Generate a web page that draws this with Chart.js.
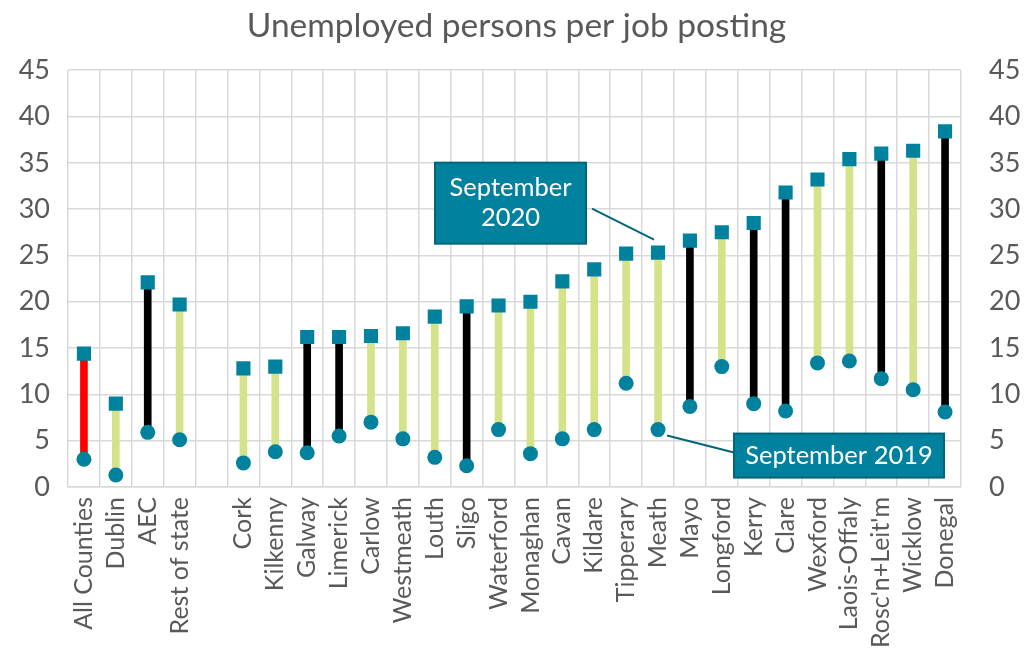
<!DOCTYPE html>
<html>
<head>
<meta charset="utf-8">
<title>Unemployed persons per job posting</title>
<script src="https://cdn.jsdelivr.net/npm/chart.js@4.4.1/dist/chart.umd.min.js"></script>
<style>
    body { margin: 0; background: #ffffff; }
    #box { width: 1033px; height: 659px; }
</style>
</head>
<body>
<div id="box"><canvas id="myChart" width="1033" height="659"></canvas></div>
<script>
// categories (empty one is the gap after "Rest of state")
var categorias = ['All Counties', 'Dublin', 'AEC', 'Rest of state', '',
    'Cork', 'Kilkenny', 'Galway', 'Limerick', 'Carlow', 'Westmeath', 'Louth', 'Sligo',
    'Waterford', 'Monaghan', 'Cavan', 'Kildare', 'Tipperary', 'Meath', 'Mayo', 'Longford',
    'Kerry', 'Clare', 'Wexford', 'Laois-Offaly', "Rosc'n+Leit'm", 'Wicklow', 'Donegal'];

var setembro2020 = [14.4, 9.0, 22.1, 19.7, null,
    12.8, 13.0, 16.2, 16.2, 16.3, 16.6, 18.4, 19.5,
    19.6, 20.0, 22.2, 23.5, 25.2, 25.3, 26.6, 27.5,
    28.5, 31.8, 33.2, 35.4, 36.0, 36.3, 38.4];

var setembro2019 = [3.0, 1.3, 5.9, 5.1, null,
    2.6, 3.8, 3.7, 5.5, 7.0, 5.2, 3.2, 2.3,
    6.2, 3.6, 5.2, 6.2, 11.2, 6.2, 8.7, 13.0,
    9.0, 8.2, 13.4, 13.6, 11.7, 10.5, 8.1];

// 'all' = national total, 'aec' = Atlantic Economic Corridor, 'rest' = rest of state
var grupos = ['all', 'rest', 'aec', 'rest', '',
    'rest', 'rest', 'aec', 'aec', 'rest', 'rest', 'rest', 'aec',
    'rest', 'rest', 'rest', 'rest', 'rest', 'rest', 'aec', 'rest',
    'aec', 'aec', 'rest', 'rest', 'aec', 'rest', 'aec'];

var ticksY = [0, 5, 10, 15, 20, 25, 30, 35, 40, 45];

var corGrupo = { all: '#ff0000', aec: '#000000', rest: '#d4e28a', '': 'rgba(0,0,0,0)' };
var corMarcador = '#00829e';
var corBorda = '#00657a';
var cinza = '#595959';

var intervalos = categorias.map(function (c, i) {
    if (setembro2020[i] == null) return null;
    return [setembro2019[i], setembro2020[i]];
});

var anotacoes = [
    { texto: ['September', '2020'], categoria: 'Meath', serie: 2020 },
    { texto: ['September 2019'], categoria: 'Meath', serie: 2019 }
];

// draws the two callout boxes with their leader lines
var pluginAnotacoes = {
    id: 'anotacoes',
    afterDatasetsDraw: function (chart) {
        var ctx = chart.ctx;
        var x = chart.scales.x;
        var y = chart.scales.y;
        anotacoes.forEach(function (a) {
            var i = categorias.indexOf(a.categoria);
            var mx = x.getPixelForValue(i);
            var bx, by, bw, bh, l1, l2;
            if (a.serie == 2020) {
                var py = y.getPixelForValue(setembro2020[i]);
                bx = mx - 223; by = py - 90; bw = 151; bh = 81;
                l1 = [mx - 66, py - 44]; l2 = [mx - 4, py - 13];
            } else {
                var py = y.getPixelForValue(setembro2019[i]);
                bx = mx + 76; by = py + 4; bw = 210; bh = 44;
                l1 = [mx + 9, py + 6]; l2 = [mx + 76, py + 23];
            }
            ctx.save();
            ctx.strokeStyle = corBorda;
            ctx.lineWidth = 2;
            ctx.beginPath();
            ctx.moveTo(l1[0], l1[1]);
            ctx.lineTo(l2[0], l2[1]);
            ctx.stroke();
            ctx.fillStyle = corMarcador;
            ctx.fillRect(bx, by, bw, bh);
            ctx.strokeRect(bx, by, bw, bh);
            ctx.fillStyle = '#ffffff';
            ctx.font = '25.5px Lato';
            ctx.textAlign = 'center';
            ctx.textBaseline = 'middle';
            var alt = 30;
            var y0 = by + bh / 2 - (a.texto.length - 1) * alt / 2;
            a.texto.forEach(function (t, k) {
                ctx.fillText(t, bx + bw / 2, y0 + k * alt);
            });
            ctx.restore();
        });
    }
};

function escalaY(posicao) {
    return {
        type: 'linear',
        position: posicao,
        min: 0,
        max: 45,
        afterBuildTicks: function (s) {
            s.ticks = ticksY.map(function (v) { return { value: v }; });
        },
        afterFit: function (s) {
            s.width = posicao == 'left' ? 68 : 72;
        },
        grid: { display: posicao == 'left', color: '#d9d9d9', lineWidth: 1.5, drawTicks: false },
        border: { display: false },
        ticks: {
            color: cinza,
            padding: posicao == 'left' ? 18 : 28,
            font: { family: 'Lato', size: 27 }
        }
    };
}

var chart = new Chart(document.getElementById('myChart').getContext('2d'), {
    type: 'bar',
    data: {
        labels: categorias,
        datasets: [
            {
                type: 'line',
                label: 'September 2020',
                data: setembro2020,
                showLine: false,
                pointStyle: 'rect',
                pointRadius: 10,
                pointBackgroundColor: corMarcador,
                pointBorderWidth: 0,
                order: 1
            },
            {
                type: 'line',
                label: 'September 2019',
                data: setembro2019,
                showLine: false,
                pointStyle: 'circle',
                pointRadius: 7.5,
                pointBackgroundColor: corMarcador,
                pointBorderWidth: 0,
                order: 2
            },
            {
                type: 'bar',
                label: 'Change',
                data: intervalos,
                backgroundColor: grupos.map(function (g) { return corGrupo[g]; }),
                barThickness: 7,
                borderSkipped: false,
                order: 3
            }
        ]
    },
    options: {
        responsive: false,
        animation: false,
        layout: { padding: { left: 0, right: 0, top: 0, bottom: 0 } },
        plugins: {
            legend: { display: false },
            tooltip: { enabled: false },
            title: {
                display: true,
                text: 'Unemployed persons per job posting',
                color: cinza,
                font: { family: 'Lato', size: 33.5, weight: 'normal' },
                padding: { top: 6, bottom: 24 }
            }
        },
        scales: {
            x: {
                offset: true,
                afterFit: function (s) { s.height = 172; },
                grid: { offset: true, color: '#d9d9d9', lineWidth: 1.5, drawTicks: false },
                border: { display: true, color: '#d9d9d9', width: 1.5 },
                ticks: {
                    color: cinza,
                    minRotation: 90,
                    maxRotation: 90,
                    autoSkip: false,
                    padding: 10,
                    font: { family: 'Lato', size: 25 }
                }
            },
            y: escalaY('left'),
            y2: escalaY('right')
        }
    },
    plugins: [pluginAnotacoes]
});
</script>
</body>
</html>
